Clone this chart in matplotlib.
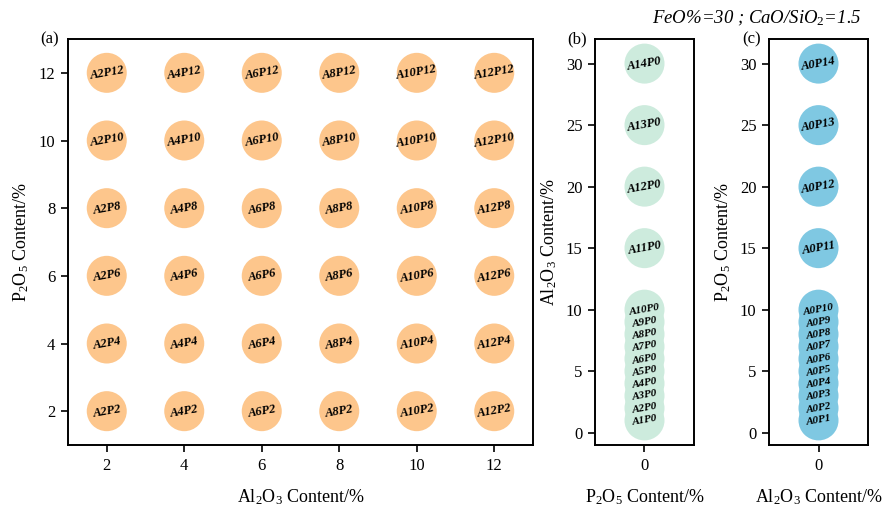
import matplotlib
matplotlib.use("Agg")
import matplotlib.pyplot as plt

plt.rcParams["font.family"] = ["Liberation Serif", "DejaVu Serif"]
plt.rcParams["mathtext.fontset"] = "custom"
plt.rcParams["mathtext.rm"] = "Liberation Serif"
plt.rcParams["mathtext.it"] = "Liberation Serif:italic"

# Panel (a): Al2O3 / P2O5 grid of compositions
grid_al = [2, 4, 6, 8, 10, 12]
grid_p = [2, 4, 6, 8, 10, 12]

# Panel (b): Al2O3 series with no P2O5
al_series = [1, 2, 3, 4, 5, 6, 7, 8, 9, 10, 11, 12, 13, 14]
al_pos = [1, 2, 3, 4, 5, 6, 7, 8, 9, 10, 15, 20, 25, 30]

# Panel (c): P2O5 series with no Al2O3
p_series = [1, 2, 3, 4, 5, 6, 7, 8, 9, 10, 11, 12, 13, 14]
p_pos = [1, 2, 3, 4, 5, 6, 7, 8, 9, 10, 15, 20, 25, 30]

col_a = "#FDC68C"
col_b = "#CDEBDD"
col_c = "#7FC8E2"

W, H = 887, 509
fig = plt.figure(figsize=(W / 100, H / 100), dpi=100)


def px_axes(x0, x1, y0, y1):
    return fig.add_axes([x0 / W, 1 - y1 / H, (x1 - x0) / W, (y1 - y0) / H])


def style(ax):
    for s in ax.spines.values():
        s.set_linewidth(1.4)
    ax.tick_params(direction="out", length=5, width=1.2, labelsize=12, pad=4)


MS = 830
ROT = 10
LBL = dict(fontweight="bold", fontstyle="italic", ha="center", va="center",
           rotation=ROT, zorder=3)

# (a)
ax_a = px_axes(68, 533, 39, 445)
xs, ys, labs = [], [], []
for p in grid_p:
    for a in grid_al:
        xs.append(a)
        ys.append(p)
        labs.append(f"A{a}P{p}")
ax_a.scatter(xs, ys, s=MS, color=col_a, edgecolors="none", zorder=2)
for x, y, t in zip(xs, ys, labs):
    ax_a.text(x, y, t, fontsize=9, **LBL)
ax_a.set_xlim(1, 13)
ax_a.set_ylim(1, 13)
ax_a.set_xticks(grid_al)
ax_a.set_yticks(grid_p)
ax_a.set_xlabel("Al$_2$O$_3$ Content/%", fontsize=13, labelpad=10)
ax_a.set_ylabel("P$_2$O$_5$ Content/%", fontsize=13, labelpad=6)
style(ax_a)
ax_a.text(-0.02, 1.0, "(a)", transform=ax_a.transAxes, ha="right", va="center",
          fontsize=12)

# (b)
ax_b = px_axes(595, 694, 39, 445)
xb = [0] * len(al_pos)
ax_b.scatter(xb, al_pos, s=MS, color=col_b, edgecolors="none", zorder=2)
for y, n in zip(al_pos, al_series):
    ax_b.text(0, y, f"A{n}P0", fontsize=8 if y <= 10 else 9, **LBL)
ax_b.set_xlim(-1, 1)
ax_b.set_ylim(-1, 32)
ax_b.set_xticks([0])
ax_b.set_yticks([0, 5, 10, 15, 20, 25, 30])
ax_b.set_xlabel("P$_2$O$_5$ Content/%", fontsize=13, labelpad=10)
ax_b.set_ylabel("Al$_2$O$_3$ Content/%", fontsize=13, labelpad=5)
style(ax_b)
ax_b.text(-0.08, 1.0, "(b)", transform=ax_b.transAxes, ha="right", va="center",
          fontsize=12)

# (c)
ax_c = px_axes(769, 868, 39, 445)
xc = [0] * len(p_pos)
ax_c.scatter(xc, p_pos, s=MS, color=col_c, edgecolors="none", zorder=2)
for y, n in zip(p_pos, p_series):
    ax_c.text(0, y, f"A0P{n}", fontsize=8 if y <= 10 else 9, **LBL)
ax_c.set_xlim(-1, 1)
ax_c.set_ylim(-1, 32)
ax_c.set_xticks([0])
ax_c.set_yticks([0, 5, 10, 15, 20, 25, 30])
ax_c.set_xlabel("Al$_2$O$_3$ Content/%", fontsize=13, labelpad=10)
ax_c.set_ylabel("P$_2$O$_5$ Content/%", fontsize=13, labelpad=5)
style(ax_c)
ax_c.text(-0.08, 1.0, "(c)", transform=ax_c.transAxes, ha="right", va="center",
          fontsize=12)

fig.text(862 / W, 1 - 18 / H, "FeO%=30 ; CaO/SiO$_{\\mathit{2}}$=1.5",
         ha="right", va="center", fontsize=13.5, fontstyle="italic")

fig.savefig("out.png", dpi=100)
